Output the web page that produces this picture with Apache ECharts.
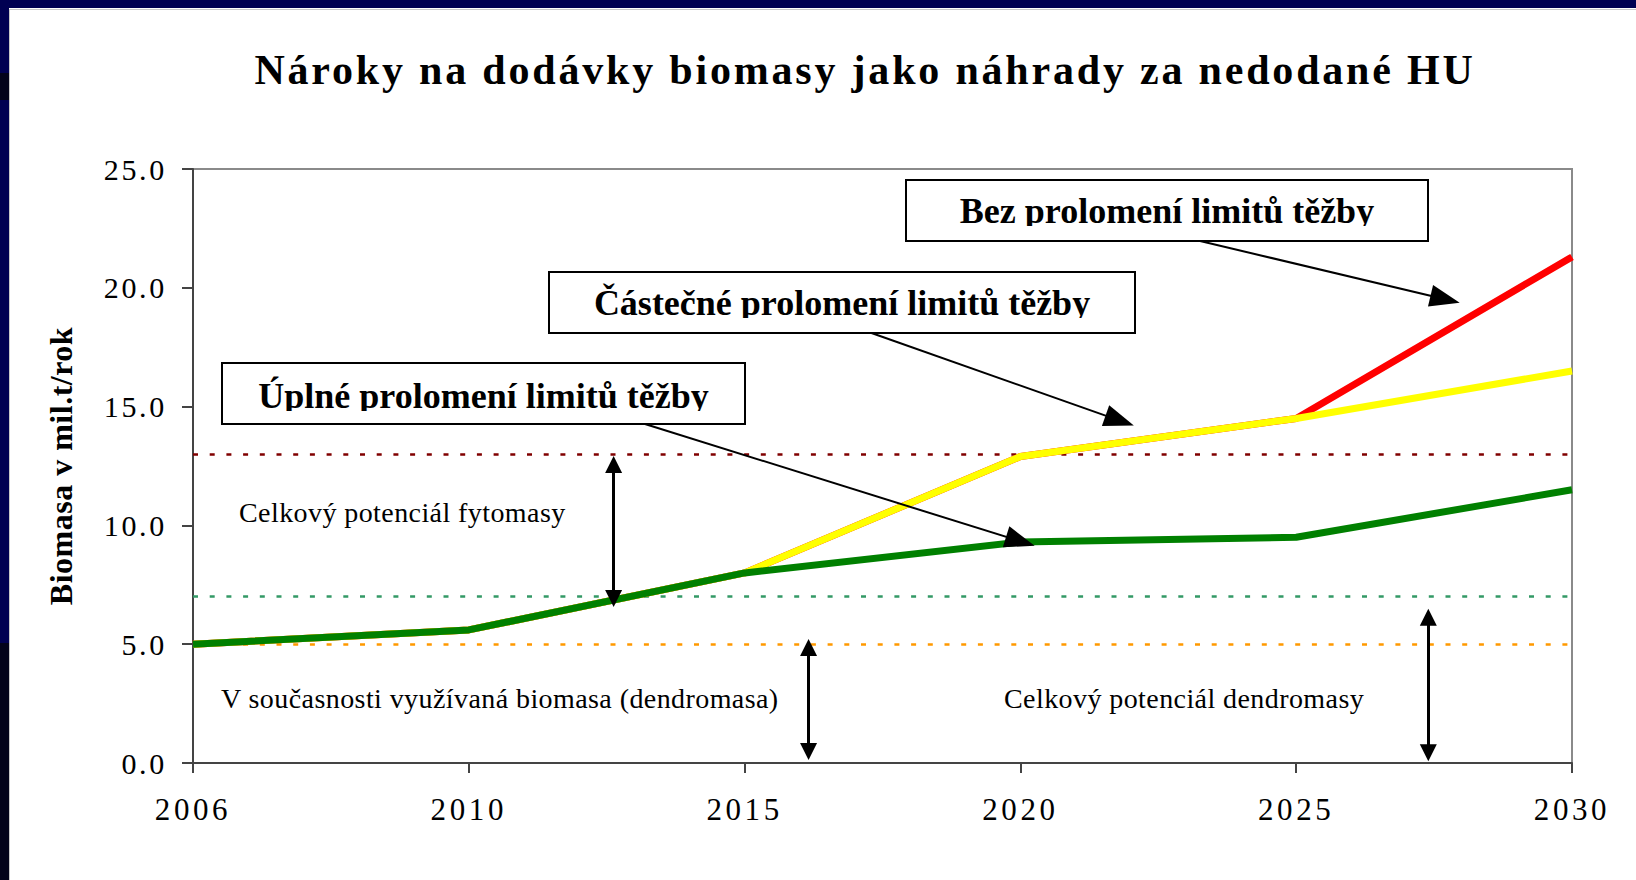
<!DOCTYPE html>
<html>
<head>
    <meta charset="utf-8">
    <title>Nároky na dodávky biomasy</title>
    <script src="https://cdn.jsdelivr.net/npm/echarts@6.0.0/dist/echarts.min.js"></script>
    <style>
        html, body { margin: 0; padding: 0; background: #fff; }
        #chart { width: 1636px; height: 880px; }
        /* prostrkane pismo: titulek, popisky os a textu v grafu */
        #chart text[style*="42px"] { letter-spacing: 2.8px; }
        #chart text[style*="30px"] { letter-spacing: 2.7px; }
        #chart text[style*="31px"] { letter-spacing: 3.6px; }
        #chart text[style*="32px"] { letter-spacing: 0.5px; }
        #chart text[style*="28px"] { letter-spacing: 0.42px; }
    </style>
</head>
<body>
<div id="chart"></div>
<script>
    var years = ['2006', '2010', '2015', '2020', '2025', '2030'];
    var yTicks = [0, 5, 10, 15, 20, 25];

    // scenare (mil. t / rok)
    var bezProlomeni = [5.0, 5.6, 8.0, 12.9, 14.5, 21.3];
    var castecneProlomeni = [5.0, 5.6, 8.0, 12.9, 14.5, 16.5];
    var uplneProlomeni = [5.0, 5.6, 8.0, 9.3, 9.5, 11.5];

    // potencial fytomasy, potencial dendromasy, soucasne vyuziti
    var limity = [13.0, 7.0, 5.0];

    // sipky od ramecku k caram (x = poradi roku, y = hodnota)
    var sipkyOd = [[1.63, 14.3], [2.46, 18.1], [3.64, 22.0]];
    var sipkyDo = [[3.0, 9.33], [3.36, 14.41], [4.54, 19.52]];

    // svisle oboustranne sipky
    var rozpetiX = [1.525, 2.232, 4.479];
    var rozpetiOd = [12.56, 4.86, 6.13];
    var rozpetiDo = [6.92, 0.48, 0.43];

    var serif = '"Liberation Serif"';

    function pary(arr) {
        return arr.map(function (v, i) { return [i, v]; });
    }

    var chart = echarts.init(document.getElementById('chart'), null, {renderer: 'svg'});

    var limitColors = ['#800000', '#339966', '#ff9900'];

    var option = {
        animation: false,
        backgroundColor: '#fff',
        title: {
            text: 'Nároky na dodávky biomasy jako náhrady za nedodané HU',
            left: 860,
            top: 44,
            textAlign: 'center',
            textStyle: {fontFamily: serif, fontWeight: 'bold', fontSize: 42, color: '#000'}
        },
        grid: {
            left: 193, right: 64, top: 169, bottom: 117,
            show: true, borderColor: '#8a8a8a', borderWidth: 2, backgroundColor: '#fff'
        },
        xAxis: {
            type: 'value',
            min: 0, max: years.length - 1, interval: 1,
            axisLine: {show: true, onZero: false, lineStyle: {color: '#444', width: 2}},
            axisTick: {show: true, length: 10, lineStyle: {color: '#444', width: 2}},
            splitLine: {show: false},
            axisLabel: {
                margin: 31,
                fontFamily: serif, fontSize: 31, color: '#000',
                formatter: function (v) { return years[v]; }
            }
        },
        yAxis: {
            type: 'value',
            min: yTicks[0], max: yTicks[yTicks.length - 1], interval: yTicks[1] - yTicks[0],
            name: 'Biomasa v mil.t/rok',
            nameLocation: 'middle',
            nameGap: 116,
            nameTextStyle: {fontFamily: serif, fontWeight: 'bold', fontSize: 32, color: '#000'},
            axisLine: {show: true, onZero: false, lineStyle: {color: '#444', width: 2}},
            axisTick: {show: true, length: 11, lineStyle: {color: '#444', width: 2}},
            splitLine: {show: false},
            axisLabel: {
                margin: 26,
                padding: [0, 0, 5, 0],
                fontFamily: serif, fontSize: 30, color: '#000',
                formatter: function (v) { return v.toFixed(1); }
            }
        },
        series: [
            {
                name: 'Bez prolomení limitů těžby',
                type: 'line',
                data: pary(bezProlomeni),
                showSymbol: false,
                lineStyle: {color: '#ff0000', width: 7},
                emphasis: {disabled: true},
                z: 3,
                markLine: {
                    silent: true,
                    symbol: 'none',
                    z: 1,
                    label: {show: false},
                    lineStyle: {type: [5, 11.7], width: 2.5},
                    data: limity.map(function (v, i) {
                        return {yAxis: v, lineStyle: {color: limitColors[i]}};
                    })
                }
            },
            {
                name: 'Částečné prolomení limitů těžby',
                type: 'line',
                data: pary(castecneProlomeni),
                showSymbol: false,
                lineStyle: {color: '#ffff00', width: 7},
                emphasis: {disabled: true},
                z: 4
            },
            {
                name: 'Úplné prolomení limitů těžby',
                type: 'line',
                data: pary(uplneProlomeni),
                showSymbol: false,
                lineStyle: {color: '#008000', width: 7},
                emphasis: {disabled: true},
                z: 5
            },
            {
                type: 'lines',
                coordinateSystem: 'cartesian2d',
                silent: true,
                z: 20,
                symbol: ['none', 'triangle'],
                symbolSize: [[22, 30], [22, 30]],
                lineStyle: {color: '#000', width: 2, opacity: 1},
                data: sipkyOd.map(function (p, i) {
                    return {coords: [p, sipkyDo[i]]};
                })
            },
            {
                type: 'lines',
                coordinateSystem: 'cartesian2d',
                silent: true,
                z: 20,
                symbol: ['triangle', 'triangle'],
                symbolSize: [[17, 17], [17, 17]],
                lineStyle: {color: '#000', width: 3, opacity: 1},
                data: rozpetiX.map(function (x, i) {
                    return {coords: [[x, rozpetiOd[i]], [x, rozpetiDo[i]]]};
                })
            }
        ],
        graphic: [
            // tmave modry okraj snimku
            {type: 'rect', z: 0, shape: {x: 0, y: 0, width: 1636, height: 8}, style: {fill: '#000052'}},
            {type: 'rect', z: 0, shape: {x: 0, y: 0, width: 9, height: 880}, style: {fill: '#000052'}},
            {type: 'rect', z: 0, shape: {x: 0, y: 73, width: 9, height: 27}, style: {fill: '#03031a'}},
            {type: 'rect', z: 0, shape: {x: 0, y: 643, width: 9, height: 237}, style: {fill: '#03031a'}},
            {type: 'line', z: 0, shape: {x1: 9, y1: 9.5, x2: 1636, y2: 9.5}, style: {stroke: '#c8c8c8', lineWidth: 1}},
            {type: 'line', z: 0, shape: {x1: 9.5, y1: 9, x2: 9.5, y2: 880}, style: {stroke: '#c8c8c8', lineWidth: 1}},

            // popisky v grafu
            {type: 'text', z: 100, x: 239, y: 512, style: {text: 'Celkový potenciál fytomasy', font: '28px ' + serif, fill: '#000', align: 'left', verticalAlign: 'middle'}},
            {type: 'text', z: 100, x: 221, y: 698, style: {text: 'V současnosti využívaná biomasa (dendromasa)', font: '28px ' + serif, fill: '#000', align: 'left', verticalAlign: 'middle'}},
            {type: 'text', z: 100, x: 1004, y: 698, style: {text: 'Celkový potenciál dendromasy', font: '28px ' + serif, fill: '#000', align: 'left', verticalAlign: 'middle'}},

            // ramecky
            {type: 'rect', z: 100, shape: {x: 222, y: 363, width: 523, height: 61}, style: {fill: '#fff'}},
            {type: 'text', z: 101, x: 483.5, y: 396, style: {text: 'Úplné prolomení limitů těžby', font: 'bold 36px ' + serif, fill: '#000', align: 'center', verticalAlign: 'middle'}},
            {type: 'rect', z: 102, shape: {x: 223, y: 411, width: 521, height: 12}, style: {fill: '#fff'}},
            {type: 'rect', z: 103, shape: {x: 222, y: 363, width: 523, height: 61}, style: {fill: 'none', stroke: '#000', lineWidth: 2}},

            {type: 'rect', z: 100, shape: {x: 549, y: 272, width: 586, height: 61}, style: {fill: '#fff'}},
            {type: 'text', z: 101, x: 842, y: 303, style: {text: 'Částečné prolomení limitů těžby', font: 'bold 36px ' + serif, fill: '#000', align: 'center', verticalAlign: 'middle'}},
            {type: 'rect', z: 102, shape: {x: 550, y: 318, width: 584, height: 14}, style: {fill: '#fff'}},
            {type: 'rect', z: 103, shape: {x: 549, y: 272, width: 586, height: 61}, style: {fill: 'none', stroke: '#000', lineWidth: 2}},

            {type: 'rect', z: 100, shape: {x: 906, y: 180, width: 522, height: 61}, style: {fill: '#fff'}},
            {type: 'text', z: 101, x: 1167, y: 211, style: {text: 'Bez prolomení limitů těžby', font: 'bold 36px ' + serif, fill: '#000', align: 'center', verticalAlign: 'middle'}},
            {type: 'rect', z: 102, shape: {x: 907, y: 226, width: 520, height: 14}, style: {fill: '#fff'}},
            {type: 'rect', z: 103, shape: {x: 906, y: 180, width: 522, height: 61}, style: {fill: 'none', stroke: '#000', lineWidth: 2}}
        ]
    };

    chart.setOption(option);
</script>
</body>
</html>
